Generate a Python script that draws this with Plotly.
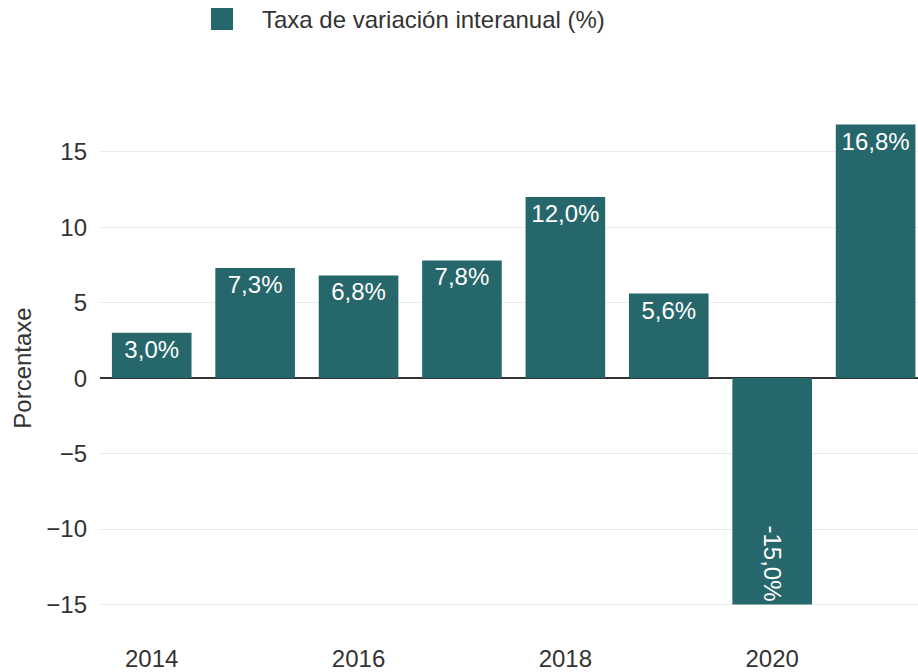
import plotly.graph_objects as go

years = [2014, 2015, 2016, 2017, 2018, 2019, 2020, 2021]
values = [3.0, 7.3, 6.8, 7.8, 12.0, 5.6, -15.0, 16.8]
labels = ["3,0%", "7,3%", "6,8%", "7,8%", "12,0%", "5,6%", "-15,0%", "16,8%"]
series_name = "Taxa de variación interanual (%)"
color = "#26676b"
FONT = "Liberation Sans, Arial"
FS = 24

pos_idx = [i for i, v in enumerate(values) if v >= 0]
neg_idx = [i for i, v in enumerate(values) if v < 0]

fig = go.Figure()
fig.add_trace(go.Bar(
    x=[years[i] for i in pos_idx], y=[values[i] for i in pos_idx],
    text=[labels[i] for i in pos_idx], name=series_name,
    marker=dict(color=color, line=dict(width=0)), width=0.77,
    textposition="inside", insidetextanchor="end", textangle=0,
    textfont=dict(color="white", size=FS, family=FONT),
    showlegend=False,
))
fig.add_trace(go.Bar(
    x=[years[i] for i in neg_idx], y=[values[i] for i in neg_idx],
    text=[labels[i] for i in neg_idx], name=series_name,
    marker=dict(color=color, line=dict(width=0)), width=0.77,
    textposition="inside", insidetextanchor="end", textangle=90,
    textfont=dict(color="white", size=FS, family=FONT),
    showlegend=False,
))

# legend (drawn as swatch + label)
fig.add_shape(type="rect", xref="paper", yref="paper",
              x0=(211 - 100) / 818, x1=(233 - 100) / 818,
              y0=1 + (114 - 30) / 508, y1=1 + (114 - 8) / 508,
              fillcolor=color, line=dict(width=0))
fig.add_annotation(text=series_name, xref="paper", yref="paper",
                   x=(260 - 100) / 818, y=1 + (114 - 20) / 508,
                   xanchor="left", yanchor="middle", showarrow=False,
                   font=dict(size=FS, color="#333", family=FONT))

fig.update_layout(
    width=918, height=672,
    margin=dict(l=100, r=0, t=114, b=50),
    paper_bgcolor="white", plot_bgcolor="white",
    barmode="overlay",
    font=dict(family=FONT, size=FS, color="#333"),
    uniformtext=dict(minsize=8, mode=False),
    showlegend=False,
    xaxis=dict(
        range=[2013.5, 2021.41], tickvals=[2014, 2016, 2018, 2020],
        showgrid=False, zeroline=False, showline=False, ticks="",
        ticklabelstandoff=20,
        tickfont=dict(size=FS, color="#333"),
    ),
    yaxis=dict(
        range=[-16.16, 17.5], tickvals=[-15, -10, -5, 0, 5, 10, 15],
        ticktext=["\u221215", "\u221210", "\u22125", "0", "5", "10", "15"],
        showgrid=True, gridcolor="#ebebeb", gridwidth=1,
        zeroline=True, zerolinecolor="#333", zerolinewidth=2,
        ticks="", ticklabelstandoff=12,
        title=dict(text="Porcentaxe", font=dict(size=FS, color="#333"), standoff=7),
        tickfont=dict(size=FS, color="#333"),
    ),
)

fig.write_html("out.html")
